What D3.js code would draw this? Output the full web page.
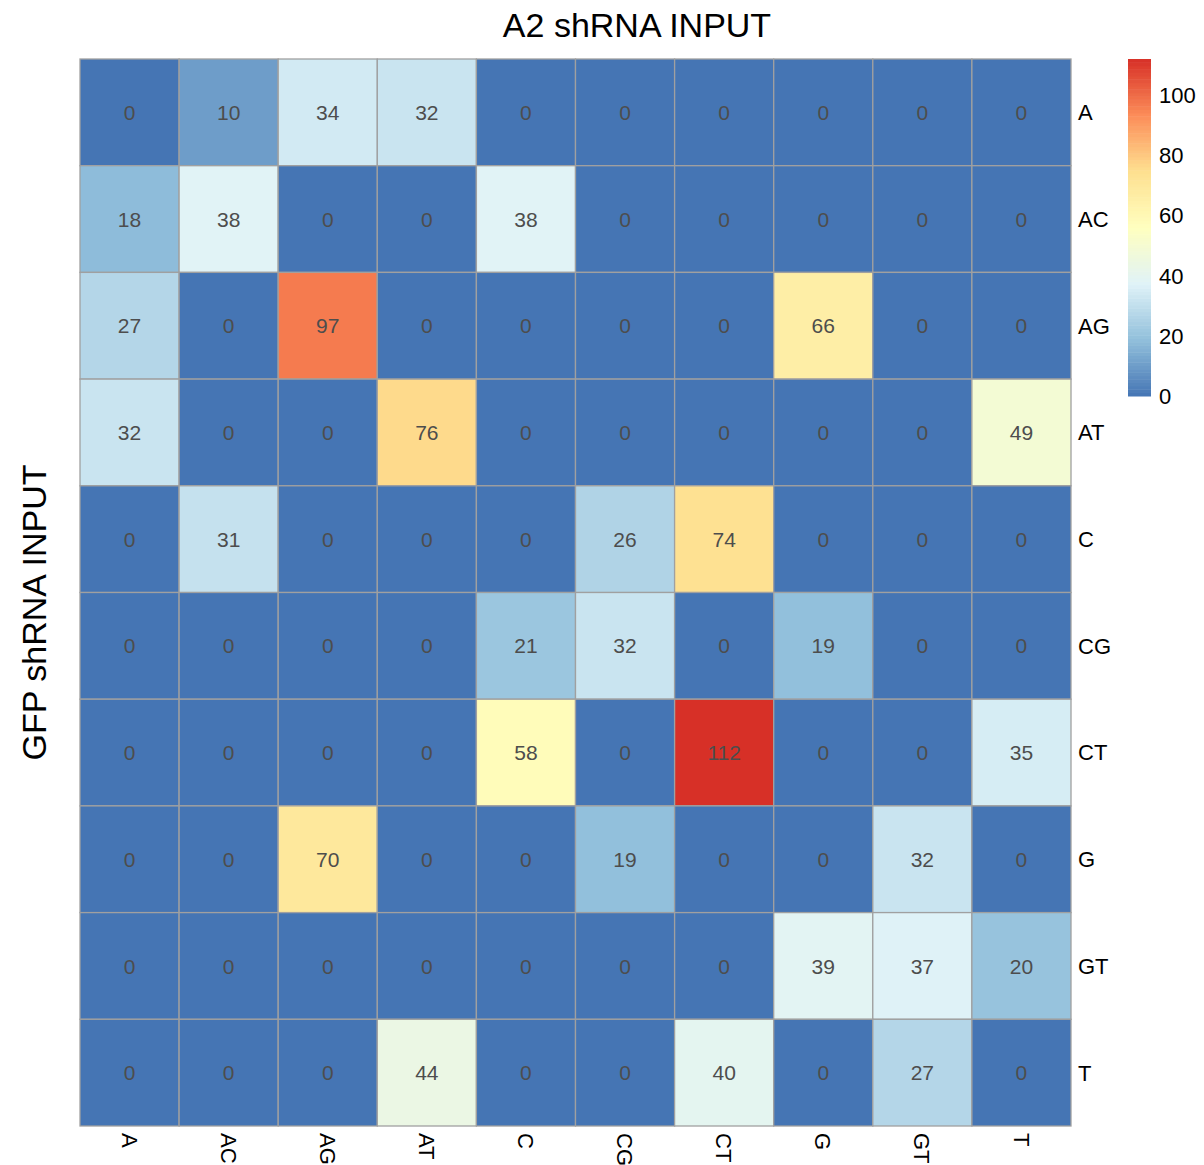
<!DOCTYPE html>
<html>
<head>
<meta charset="utf-8">
<script src="https://d3js.org/d3.v7.min.js"></script>
<style>
  body { margin: 0; background: #fff; }
  text { font-family: "Liberation Sans", Arial, Helvetica, sans-serif; }
</style>
</head>
<body>
<div id="chart"></div>
<script>
(function() {
    "use strict";

    var colLabels = ["A", "AC", "AG", "AT", "C", "CG", "CT", "G", "GT", "T"];
    var rowLabels = ["A", "AC", "AG", "AT", "C", "CG", "CT", "G", "GT", "T"];
    var counts = [
        [0, 10, 34, 32, 0, 0, 0, 0, 0, 0],
        [18, 38, 0, 0, 38, 0, 0, 0, 0, 0],
        [27, 0, 97, 0, 0, 0, 0, 66, 0, 0],
        [32, 0, 0, 76, 0, 0, 0, 0, 0, 49],
        [0, 31, 0, 0, 0, 26, 74, 0, 0, 0],
        [0, 0, 0, 0, 21, 32, 0, 19, 0, 0],
        [0, 0, 0, 0, 58, 0, 112, 0, 0, 35],
        [0, 0, 70, 0, 0, 19, 0, 0, 32, 0],
        [0, 0, 0, 0, 0, 0, 0, 39, 37, 20],
        [0, 0, 0, 44, 0, 0, 40, 0, 27, 0]
    ];
    var legendTicks = [0, 20, 40, 60, 80, 100];
    var palette = ["#4575B4", "#91BFDB", "#E0F3F8", "#FFFFBF", "#FEE090", "#FC8D59", "#D73027"];

    var width = 1204, height = 1165;
    var grid = { left: 80, top: 59, right: 1071, bottom: 1126 };

    var svg = d3.select("#chart").append("svg")
        .attr("width", width)
        .attr("height", height);

    var x = d3.scaleBand().domain(colLabels).range([grid.left, grid.right]);
    var y = d3.scaleBand().domain(rowLabels).range([grid.top, grid.bottom]);

    var maxVal = d3.max(counts, function(r) { return d3.max(r); });
    var color = d3.scaleLinear()
        .domain(palette.map(function(d, i) { return maxVal * i / (palette.length - 1); }))
        .range(palette)
        .interpolate(d3.interpolateRgb);

    var cells = [];
    counts.forEach(function(row, i) {
        row.forEach(function(v, j) {
            cells.push({ row: rowLabels[i], col: colLabels[j], value: v });
        });
    });

    svg.selectAll("rect.cell")
        .data(cells)
        .enter()
        .append("rect")
        .attr("class", "cell")
        .attr("x", function(d) { return x(d.col); })
        .attr("y", function(d) { return y(d.row); })
        .attr("width", x.bandwidth())
        .attr("height", y.bandwidth())
        .attr("fill", function(d) { return color(d.value); })
        .attr("stroke", "#a0a0a0")
        .attr("stroke-width", 1.3);

    svg.selectAll("text.num")
        .data(cells)
        .enter()
        .append("text")
        .attr("class", "num")
        .attr("x", function(d) { return x(d.col) + x.bandwidth() / 2; })
        .attr("y", function(d) { return y(d.row) + y.bandwidth() / 2; })
        .attr("text-anchor", "middle")
        .attr("dy", "0.36em")
        .attr("font-size", 21)
        .attr("fill", "#4d4d4d")
        .text(function(d) { return d.value; });

    // row labels on the right
    svg.selectAll("text.rowlab")
        .data(rowLabels)
        .enter()
        .append("text")
        .attr("class", "rowlab")
        .attr("x", grid.right + 7)
        .attr("y", function(d) { return y(d) + y.bandwidth() / 2; })
        .attr("dy", "0.36em")
        .attr("font-size", 22)
        .attr("fill", "#000")
        .text(function(d) { return d; });

    // column labels, rotated
    svg.selectAll("text.collab")
        .data(colLabels)
        .enter()
        .append("text")
        .attr("class", "collab")
        .attr("transform", function(d) {
            return "translate(" + (x(d) + x.bandwidth() / 2) + "," + (grid.bottom + 7) + ") rotate(90)";
        })
        .attr("dy", "0.36em")
        .attr("font-size", 22)
        .attr("fill", "#000")
        .text(function(d) { return d; });

    // titles
    svg.append("text")
        .attr("x", 637)
        .attr("y", 37)
        .attr("text-anchor", "middle")
        .attr("font-size", 34)
        .text("A2 shRNA INPUT");

    svg.append("text")
        .attr("transform", "translate(46," + ((grid.top + grid.bottom) / 2 + 20) + ") rotate(-90)")
        .attr("text-anchor", "middle")
        .attr("font-size", 34)
        .text("GFP shRNA INPUT");

    // colour legend
    var legX = 1128, legW = 23;
    var legScale = d3.scaleLinear().domain([0, maxVal]).range([396, grid.top]);
    var steps = d3.range(0, 100);
    var stepH = (legScale(0) - legScale(maxVal)) / steps.length;
    svg.selectAll("rect.leg")
        .data(steps)
        .enter()
        .append("rect")
        .attr("class", "leg")
        .attr("x", legX)
        .attr("y", function(d) { return legScale(0) - (d + 1) * stepH; })
        .attr("width", legW)
        .attr("height", stepH + 0.5)
        .attr("fill", function(d) { return color((d + 0.5) * maxVal / steps.length); });

    svg.selectAll("text.legtick")
        .data(legendTicks)
        .enter()
        .append("text")
        .attr("class", "legtick")
        .attr("x", legX + legW + 8)
        .attr("y", function(d) { return legScale(d); })
        .attr("dy", "0.36em")
        .attr("font-size", 22)
        .text(function(d) { return d; });
})();
</script>
</body>
</html>
